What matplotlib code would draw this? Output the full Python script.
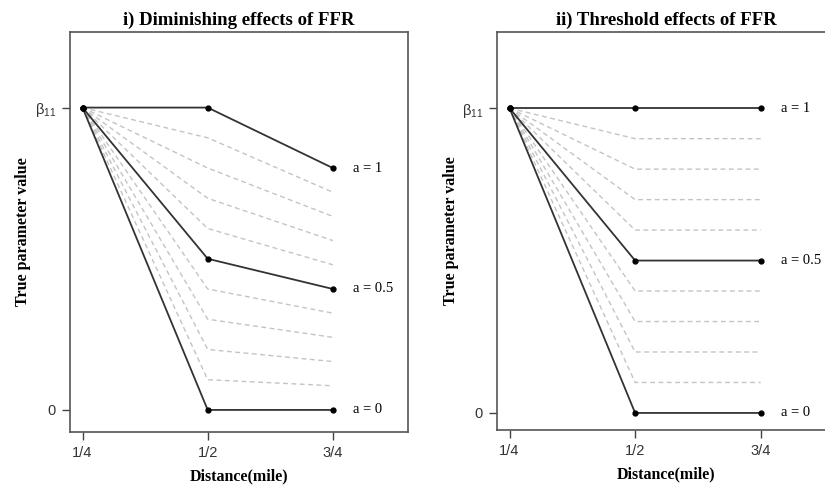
import matplotlib
matplotlib.use("Agg")
import matplotlib.pyplot as plt

plt.rcParams["mathtext.default"] = "regular"

# distances (tick positions 1,2,3 -> 1/4, 1/2, 3/4 mile)
x_pos = [1, 2, 3]
x_labels = ["1/4", "1/2", "3/4"]

# a values, 0 .. 1
a_values = [0.0, 0.1, 0.2, 0.3, 0.4, 0.5, 0.6, 0.7, 0.8, 0.9, 1.0]

# i) diminishing effects: value at 1/4, 1/2, 3/4
dim_q1 = [1.0, 1.0, 1.0, 1.0, 1.0, 1.0, 1.0, 1.0, 1.0, 1.0, 1.0]
dim_half = [0.0, 0.1, 0.2, 0.3, 0.4, 0.5, 0.6, 0.7, 0.8, 0.9, 1.0]
dim_q3 = [0.0, 0.08, 0.16, 0.24, 0.32, 0.40, 0.48, 0.56, 0.64, 0.72, 0.80]

# ii) threshold effects
thr_q1 = [1.0, 1.0, 1.0, 1.0, 1.0, 1.0, 1.0, 1.0, 1.0, 1.0, 1.0]
thr_half = [0.0, 0.1, 0.2, 0.3, 0.4, 0.5, 0.6, 0.7, 0.8, 0.9, 1.0]
thr_q3 = [0.0, 0.1, 0.2, 0.3, 0.4, 0.5, 0.6, 0.7, 0.8, 0.9, 1.0]

solid_a = [0.0, 0.5, 1.0]
label_text = {0.0: "a = 0", 0.5: "a = 0.5", 1.0: "a = 1"}

serif = "Liberation Serif"
sans = "Liberation Sans"

fig = plt.figure(figsize=(8.25, 4.87), dpi=100)
W, H = 825, 487


def make_ax(left, right, top, bottom):
    return fig.add_axes([left / W, 1 - bottom / H, (right - left) / W, (bottom - top) / H])


ax1 = make_ax(70, 408, 32, 432)
ax2 = make_ax(497, 836, 32, 430)


def draw(ax, q1, half, q3, title, ylim, ypad):
    for i, a in enumerate(a_values):
        ys = [q1[i], half[i], q3[i]]
        if a in solid_a:
            ax.plot(x_pos, ys, color="#333333", lw=1.3, zorder=3)
            ax.plot(x_pos, ys, "o", color="black", ms=3.5, zorder=4)
            ax.text(3.16, q3[i], label_text[a], family=serif, fontsize=10.5,
                    va="center", ha="left")
        else:
            ax.plot(x_pos, ys, color="#c4c4c4",
                    lw=1.0, ls=(0, (3.5, 2.5)), zorder=2)
    ax.set_xlim(0.9, 3.6)
    ax.set_ylim(*ylim)
    ax.set_xticks(x_pos)
    ax.set_xticklabels(x_labels, family=sans, fontsize=10.5, color="#333333")
    ax.set_yticks([0, 1])
    ax.set_yticklabels(["0", r"$\beta_{11}$"], family=sans, fontsize=10.5, color="#333333")
    ax.tick_params(direction="out", length=6, width=1, color="#444444", pad=4)
    for s in ax.spines.values():
        s.set_color("#555555")
        s.set_linewidth(1.2)
    ax.set_title(title, family=serif, fontweight="bold", fontsize=13.5, pad=5)
    ax.set_xlabel("Distance(mile)", family=serif, fontweight="bold", fontsize=11.5, labelpad=6)
    ax.set_ylabel("True parameter value", family=serif, fontweight="bold", fontsize=11.5, labelpad=ypad)


draw(ax1, dim_q1, dim_half, dim_q3, "i) Diminishing effects of FFR", (-0.073, 1.25), 3)
draw(ax2, thr_q1, thr_half, thr_q3, "ii) Threshold effects of FFR", (-0.056, 1.25), 2)

fig.savefig("out.png", dpi=100)
